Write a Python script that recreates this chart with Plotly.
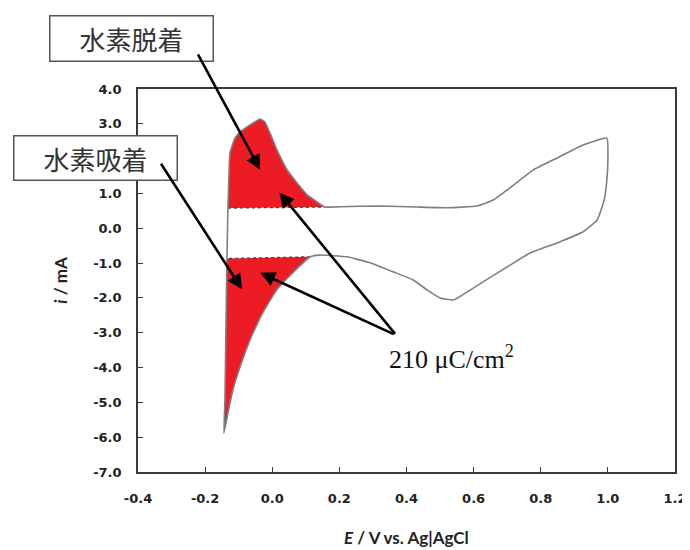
import numpy as np
import plotly.graph_objects as go

# ---- data ----
# anodic (positive-going) scan, E in V vs Ag|AgCl, i in mA
E_anodic = [-0.144, -0.141, -0.138, -0.135, -0.132, -0.129, -0.126, -0.111, -0.096, -0.066,
            -0.036, -0.022, -0.007, 0.014, 0.044, 0.074, 0.104, 0.133, 0.157, 0.202,
            0.321, 0.431, 0.521, 0.610, 0.658, 0.708, 0.777, 0.849, 0.926, 0.997]
I_anodic = [-5.88, -4.93, -2.92, -0.87, 0.58, 1.53, 2.16, 2.59, 2.77, 2.97,
            3.14, 3.05, 2.74, 2.25, 1.68, 1.30, 0.96, 0.76, 0.61, 0.62,
            0.64, 0.61, 0.59, 0.64, 0.81, 1.16, 1.67, 2.02, 2.39, 2.59]
# cathodic (negative-going) scan
E_cathodic = [1.000, 0.997, 0.989, 0.968, 0.926, 0.849, 0.768, 0.700, 0.628, 0.539,
              0.500, 0.461, 0.419, 0.360, 0.291, 0.223, 0.142, 0.113, 0.062, 0.014,
              -0.028, -0.066, -0.096, -0.117, -0.132, -0.144]
I_cathodic = [1.96, 1.39, 0.81, 0.24, -0.10, -0.42, -0.71, -1.11, -1.54, -2.06,
              -2.00, -1.77, -1.48, -1.25, -0.99, -0.82, -0.77, -0.82, -1.27, -1.76,
              -2.42, -3.20, -3.98, -4.64, -5.30, -5.88]

x_tickvals = [-0.4, -0.2, 0.0, 0.2, 0.4, 0.6, 0.8, 1.0, 1.2]
x_ticktext = ["-0.4", "-0.2", "0.0", "0.2", "0.4", "0.6", "0.8", "1.0", "1.2"]
y_tickvals = [4, 3, 2, 1, 0, -1, -2, -3, -4, -5, -6, -7]
y_ticktext = ["4.0", "3.0", "2.0", "1.0", "0.0", "-1.0", "-2.0", "-3.0", "-4.0", "-5.0", "-6.0", "-7.0"]

label_desorption = "水素脱着"
label_adsorption = "水素吸着"
label_charge = "210 μC/cm<sup>2</sup>"

# ---- derived regions ----
Ea, Ia = np.array(E_anodic), np.array(I_anodic)
Ec, Ic = np.array(E_cathodic), np.array(I_cathodic)

des_mask = (Ea < 0.17) & (Ia >= 0.55)
des_x, des_y = Ea[des_mask], Ia[des_mask]

ads_c = (Ec < 0.12) & (Ic <= -0.8)
ads_a = Ia <= -0.8
ads_x = np.concatenate([Ec[ads_c], Ea[ads_a]])
ads_y = np.concatenate([Ic[ads_c], Ia[ads_a]])

RED = "#ED1C24"
CURVE = "#7f7f7f"

fig = go.Figure()
fig.add_trace(go.Scatter(x=des_x, y=des_y, fill="toself", fillcolor=RED,
                         mode="lines", line=dict(width=0), hoverinfo="skip"))
fig.add_trace(go.Scatter(x=ads_x, y=ads_y, fill="toself", fillcolor=RED,
                         mode="lines", line=dict(width=0), hoverinfo="skip"))
# dashed baselines closing the filled areas
fig.add_trace(go.Scatter(x=[des_x[0], des_x[-1]], y=[des_y[0], des_y[-1]], mode="lines",
                         line=dict(color="#444444", width=1.3, dash="dot")))
fig.add_trace(go.Scatter(x=[Ec[ads_c][0], Ea[ads_a][-1]], y=[Ic[ads_c][0], Ia[ads_a][-1]],
                         mode="lines", line=dict(color="#444444", width=1.3, dash="dot")))
# the voltammogram
fig.add_trace(go.Scatter(x=np.concatenate([Ea, Ec]), y=np.concatenate([Ia, Ic]),
                         mode="lines", line=dict(color=CURVE, width=1.6, shape="spline", smoothing=0.4)))

tick_font = dict(family="DejaVu Sans", size=13, color="#222222", weight="bold")
axis_common = dict(showline=True, linecolor="#3a3a3a", linewidth=1.6, mirror=True,
                   ticks="inside", ticklen=5, tickcolor="#3a3a3a", tickwidth=1.2,
                   showgrid=False, zeroline=False, tickfont=tick_font, automargin=False)

fig.update_xaxes(range=[-0.4, 1.2], tickvals=x_tickvals, ticktext=x_ticktext,
                 ticklabelstandoff=14, **axis_common)
fig.update_yaxes(range=[-7, 4], tickvals=y_tickvals, ticktext=y_ticktext,
                 ticklabelstandoff=12, **axis_common)

cjk = dict(family="Noto Sans CJK JP", size=26, color="#333333")
arrow = dict(showarrow=True, arrowhead=2, arrowsize=1.15, arrowwidth=2.6,
             arrowcolor="#000000", text="", xref="x", yref="y", axref="pixel", ayref="pixel")

annotations = [
    dict(text=label_desorption, xref="paper", yref="paper", x=-0.013, y=1.1306,
         xanchor="center", yanchor="middle", showarrow=False, width=162, height=44,
         bordercolor="#555555", borderwidth=1.5, borderpad=0, bgcolor="white", font=cjk),
    dict(text=label_adsorption, xref="paper", yref="paper", x=-0.080, y=0.821,
         xanchor="center", yanchor="middle", showarrow=False, width=162, height=43,
         bordercolor="#555555", borderwidth=1.5, borderpad=0, bgcolor="white", font=cjk),
    dict(x=-0.036, y=1.68, ax=-63, ay=-117, **arrow),
    dict(x=-0.090, y=-1.75, ax=-82, ay=-127, **arrow),
    dict(x=0.021, y=1.03, ax=117, ay=143, **arrow),
    dict(x=-0.036, y=-1.28, ax=135, ay=62, **arrow),
    dict(text=label_charge, xref="paper", yref="paper", x=0.583, y=0.298,
         xanchor="center", yanchor="middle", showarrow=False,
         font=dict(family="Liberation Serif", size=26, color="#111111")),
    dict(text="<i>E</i> / V vs. Ag|AgCl", xref="paper", yref="paper", x=0.5, y=-0.17,
         xanchor="center", yanchor="middle", showarrow=False,
         font=dict(family="Lato", size=17, color="#222222", weight="bold")),
    dict(text="<i>i</i> / mA", xref="paper", yref="paper", x=-0.145, y=0.50,
         xanchor="center", yanchor="middle", showarrow=False, textangle=-90,
         font=dict(family="Lato", size=17, color="#222222", weight="bold")),
]

# the page body keeps an 8px margin, so the figure is 8px narrower/shorter than the window
fig.update_layout(width=682, height=542, margin=dict(l=130, r=15, t=81, b=78, autoexpand=False),
                  plot_bgcolor="white", paper_bgcolor="white", showlegend=False,
                  annotations=annotations)

fig.write_html("out.html", config={"displayModeBar": False})
